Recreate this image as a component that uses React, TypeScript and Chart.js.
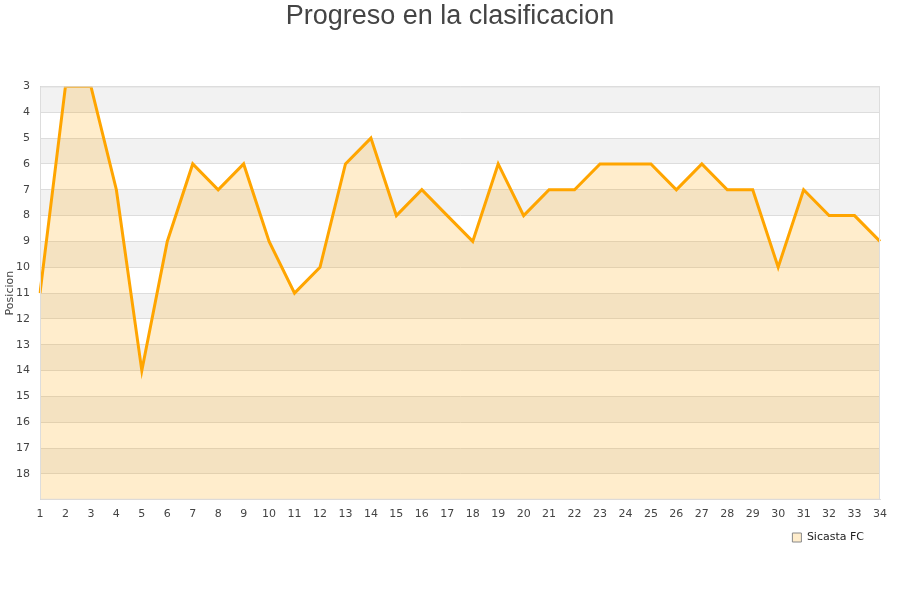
import React, { useEffect, useRef } from "react";
import { Chart, registerables } from "chart.js";

Chart.register(...registerables);

const TITLE = "Progreso en la clasificacion";
const SERIES_NAME = "Sicasta FC";
const Y_TITLE = "Posicion";
const jornadas = Array.from({ length: 34 }, (_, i) => String(i + 1));
const posiciones = [
  11, 3, 3, 7, 14, 9, 6, 7, 6, 9, 11, 10, 6, 5, 8, 7, 8, 9, 6, 8, 7, 7, 6, 6, 6, 7, 6, 7, 7, 10, 7, 8, 8, 9,
];
const Y_MIN = 3;
const Y_MAX = 19;

const bandsPlugin = {
  id: "bands",
  afterLayout(chart: any) {
    const t = chart.titleBlock;
    if (t) {
      t.left += 10;
      t.right += 10;
    }
    const l = chart.legend;
    if (l) {
      l.top -= 13;
      l.bottom -= 13;
    }
  },
  beforeDraw(chart: any) {
    const { ctx, chartArea } = chart;
    const y = chart.scales.y;
    ctx.save();
    ctx.fillStyle = "#ffffff";
    ctx.fillRect(chartArea.left, chartArea.top, chartArea.right - chartArea.left, chartArea.bottom - chartArea.top);
    for (let v = Y_MIN; v < Y_MAX; v += 2) {
      const p1 = y.getPixelForValue(v);
      const p2 = y.getPixelForValue(v + 1);
      ctx.fillStyle = "#f2f2f2";
      ctx.fillRect(chartArea.left, p1, chartArea.right - chartArea.left, p2 - p1);
    }
    ctx.restore();
  },
  afterDraw(chart: any) {
    const { ctx, chartArea } = chart;
    ctx.save();
    ctx.strokeStyle = "#dddddd";
    ctx.lineWidth = 1;
    ctx.strokeRect(chartArea.left + 0.5, chartArea.top + 0.5, chartArea.right - chartArea.left - 1, chartArea.bottom - chartArea.top - 1);
    ctx.restore();
  },
};

export default function App() {
  const ref = useRef<HTMLCanvasElement | null>(null);
  useEffect(() => {
    document.body.style.margin = "0";
    const chart = new Chart(ref.current as HTMLCanvasElement, {
      type: "line",
      data: {
        labels: jornadas,
        datasets: [
          {
            label: SERIES_NAME,
            data: posiciones,
            borderColor: "#ffa500",
            backgroundColor: "rgba(255,165,0,0.2)",
            borderWidth: 3,
            pointRadius: 0,
            tension: 0,
            fill: { value: Y_MAX },
          },
        ],
      },
      options: {
        animation: false,
        responsive: false,
        layout: { padding: { left: 0, right: 20, top: 0, bottom: 34 } },
        plugins: {
          title: {
            display: true,
            text: TITLE,
            color: "#444444",
            font: { family: "'Liberation Sans', Arial, sans-serif", size: 27, weight: "normal" },
            padding: { top: 0, bottom: 54 },
          },
          legend: {
            position: "bottom",
            align: "end",
            labels: {
              boxWidth: 9,
              boxHeight: 9,
              color: "#222",
              font: { family: "'DejaVu Sans', sans-serif", size: 11 },
              padding: 16,
              generateLabels: (c: any) =>
                c.data.datasets.map((d: any, i: number) => ({
                  text: d.label,
                  fillStyle: "rgba(255,165,0,0.2)",
                  strokeStyle: "#888888",
                  lineWidth: 1,
                  fontColor: "#222",
                  datasetIndex: i,
                  hidden: false,
                })),
            },
          },
          tooltip: { enabled: false },
        },
        scales: {
          x: {
            grid: { display: false, drawTicks: false },
            border: { color: "#dddddd" },
            ticks: {
              color: "#444",
              font: { family: "'DejaVu Sans', sans-serif", size: 11 },
              maxRotation: 0,
              autoSkip: false,
              padding: 8,
            },
          },
          y: {
            reverse: true,
            min: Y_MIN,
            max: Y_MAX,
            grid: { color: "#dddddd", drawTicks: false },
            border: { color: "#d0d0d0" },
            afterFit: (s: any) => {
              s.width = 40;
            },
            title: {
              display: true,
              text: Y_TITLE,
              color: "#444",
              font: { family: "'DejaVu Sans', sans-serif", size: 11 },
              padding: { top: 4, bottom: 0 },
            },
            ticks: {
              stepSize: 1,
              color: "#444",
              font: { family: "'DejaVu Sans', sans-serif", size: 11 },
              padding: 10,
              callback: (v: any) => (v === Y_MAX ? "" : String(v)),
            },
          },
        },
      },
      plugins: [bandsPlugin],
    });
    return () => chart.destroy();
  }, []);
  return (
    <div style={{ width: 900, height: 600 }}>
      <canvas ref={ref} width={900} height={600} style={{ display: "block" }} />
    </div>
  );
}
